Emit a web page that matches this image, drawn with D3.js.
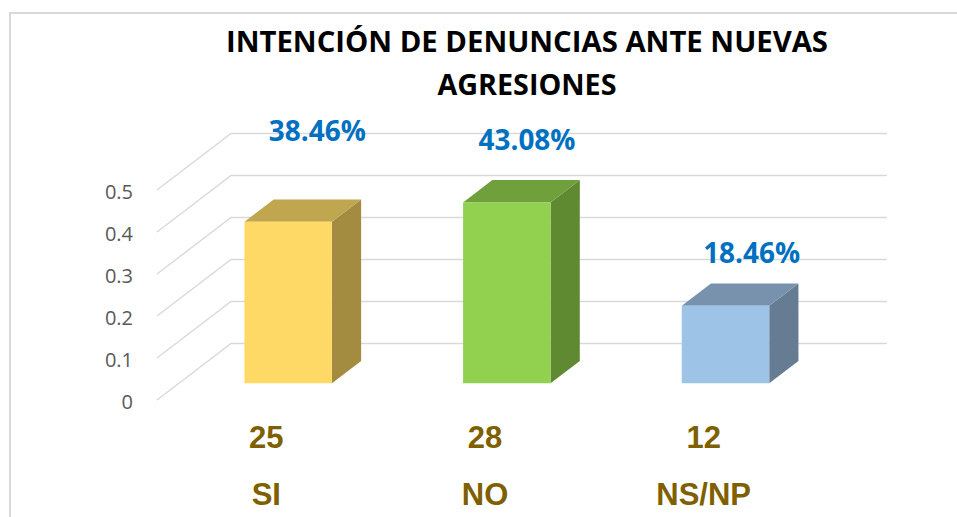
<!DOCTYPE html>
<html>
<head>
<meta charset="utf-8">
<script src="https://cdn.jsdelivr.net/npm/d3@7"></script>
<style>
  body { margin: 0; background: #fff; }
  svg { display: block; }
</style>
</head>
<body>
<div id="chart"></div>
<script>
// chart data
var categories = ["SI", "NO", "NS/NP"];
var counts = [25, 28, 12];
var shares = [0.3846, 0.4308, 0.1846];
var shareLabels = ["38.46%", "43.08%", "18.46%"];
var yTicks = [0, 0.1, 0.2, 0.3, 0.4, 0.5];
var titleLines = ["INTENCIÓN DE DENUNCIAS ANTE NUEVAS", "AGRESIONES"];

// face colours per bar: front, top, side
var barColors = [
  { front: "#FFD966", top: "#BFA64F", side: "#A38B40" },
  { front: "#92D050", top: "#70A03B", side: "#5F8A31" },
  { front: "#9DC3E6", top: "#7892AD", side: "#657C93" }
];

var width = 957, height = 517;
var depth = { dx: 74, dy: -56.5 };   // full depth of the 3d box
var barFront = 0.295, barBack = 0.69; // bar position inside depth

var svg = d3.select("#chart").append("svg")
  .attr("width", width)
  .attr("height", height);

// frame
svg.append("line").attr("x1", 9).attr("x2", width).attr("y1", 13).attr("y2", 13)
  .attr("stroke", "#D9D9D9").attr("stroke-width", 2);
svg.append("line").attr("x1", 10).attr("x2", 10).attr("y1", 12).attr("y2", height)
  .attr("stroke", "#D9D9D9").attr("stroke-width", 2);

var x = d3.scaleBand()
  .domain(categories)
  .range([157, 813])
  .paddingInner(0.6)
  .paddingOuter(0.3);

var y = d3.scaleLinear()
  .domain([0, 0.5])
  .range([400, 190]);

// gridlines: diagonal on the side wall, horizontal on the back wall
var grid = svg.append("g").attr("stroke", "#D9D9D9").attr("stroke-width", 1.4).attr("fill", "none");
yTicks.forEach(function(t){
  var yy = y(t);
  grid.append("polyline")
    .attr("points", [
      [157, yy],
      [157 + depth.dx, yy + depth.dy],
      [813 + depth.dx, yy + depth.dy]
    ].map(function(p){ return p.join(","); }).join(" "));
});

// y tick labels
svg.append("g").selectAll("text")
  .data(yTicks)
  .join("text")
  .attr("x", 133)
  .attr("y", function(d){ return y(d) + 2; })
  .attr("dy", "0.35em")
  .attr("text-anchor", "end")
  .attr("font-family", "'Open Sans', sans-serif")
  .attr("font-size", 20)
  .attr("fill", "#595959")
  .text(function(d){ return d3.format("")(d); });

// bars
function pt(px, py, f){ return [px + depth.dx * f, py + depth.dy * f]; }
function poly(pts){ return pts.map(function(p){ return p.join(","); }).join(" "); }

var bars = svg.append("g").selectAll("g")
  .data(categories.map(function(c, i){ return { cat: c, v: shares[i], col: barColors[i] }; }))
  .join("g");

bars.each(function(d){
  var g = d3.select(this);
  var x0 = x(d.cat), x1 = x(d.cat) + x.bandwidth();
  var yb = y(0), yt = y(d.v);
  // side
  g.append("polygon")
    .attr("points", poly([pt(x1, yt, barFront), pt(x1, yt, barBack), pt(x1, yb, barBack), pt(x1, yb, barFront)]))
    .attr("fill", d.col.side);
  // top
  g.append("polygon")
    .attr("points", poly([pt(x0, yt, barFront), pt(x1, yt, barFront), pt(x1, yt, barBack), pt(x0, yt, barBack)]))
    .attr("fill", d.col.top);
  // front
  g.append("polygon")
    .attr("points", poly([pt(x0, yt, barFront), pt(x1, yt, barFront), pt(x1, yb, barFront), pt(x0, yb, barFront)]))
    .attr("fill", d.col.front);
});

// data labels (excel labels were dragged by hand, so each has its own nudge)
var labelLift = [97, 69, 59];
var labelShift = [51, 42, 48];
svg.append("g").selectAll("text")
  .data(shareLabels)
  .join("text")
  .attr("x", function(d, i){ return x(categories[i]) + x.bandwidth() / 2 + labelShift[i]; })
  .attr("y", function(d, i){ return y(shares[i]) - labelLift[i]; })
  .attr("text-anchor", "middle")
  .attr("font-family", "'Open Sans', sans-serif")
  .attr("font-weight", "bold")
  .attr("font-size", 28)
  .attr("fill", "#0070C0")
  .attr("textLength", 97)
  .attr("lengthAdjust", "spacingAndGlyphs")
  .text(function(d){ return d; });

// category labels: count then name
var catG = svg.append("g")
  .attr("font-family", "'Liberation Sans', Arial, sans-serif")
  .attr("font-weight", "bold")
  .attr("font-size", 31)
  .attr("fill", "#7F6000")
  .attr("text-anchor", "middle");

catG.selectAll("text.count")
  .data(counts)
  .join("text")
  .attr("class", "count")
  .attr("x", function(d, i){ return x(categories[i]) + x.bandwidth() / 2; })
  .attr("y", 448)
  .text(function(d){ return d; });

catG.selectAll("text.cat")
  .data(categories)
  .join("text")
  .attr("class", "cat")
  .attr("x", function(d){ return x(d) + x.bandwidth() / 2; })
  .attr("y", 505)
  .text(function(d){ return d; });

// title
svg.append("g").selectAll("text")
  .data(titleLines)
  .join("text")
  .attr("x", 527)
  .attr("y", function(d, i){ return 52 + i * 43; })
  .attr("text-anchor", "middle")
  .attr("font-family", "'Open Sans', sans-serif")
  .attr("font-weight", "bold")
  .attr("font-size", 28)
  .attr("fill", "#000")
  .attr("textLength", function(d, i){ return i === 0 ? 602 : 179; })
  .attr("lengthAdjust", "spacingAndGlyphs")
  .text(function(d){ return d; });
</script>
</body>
</html>
